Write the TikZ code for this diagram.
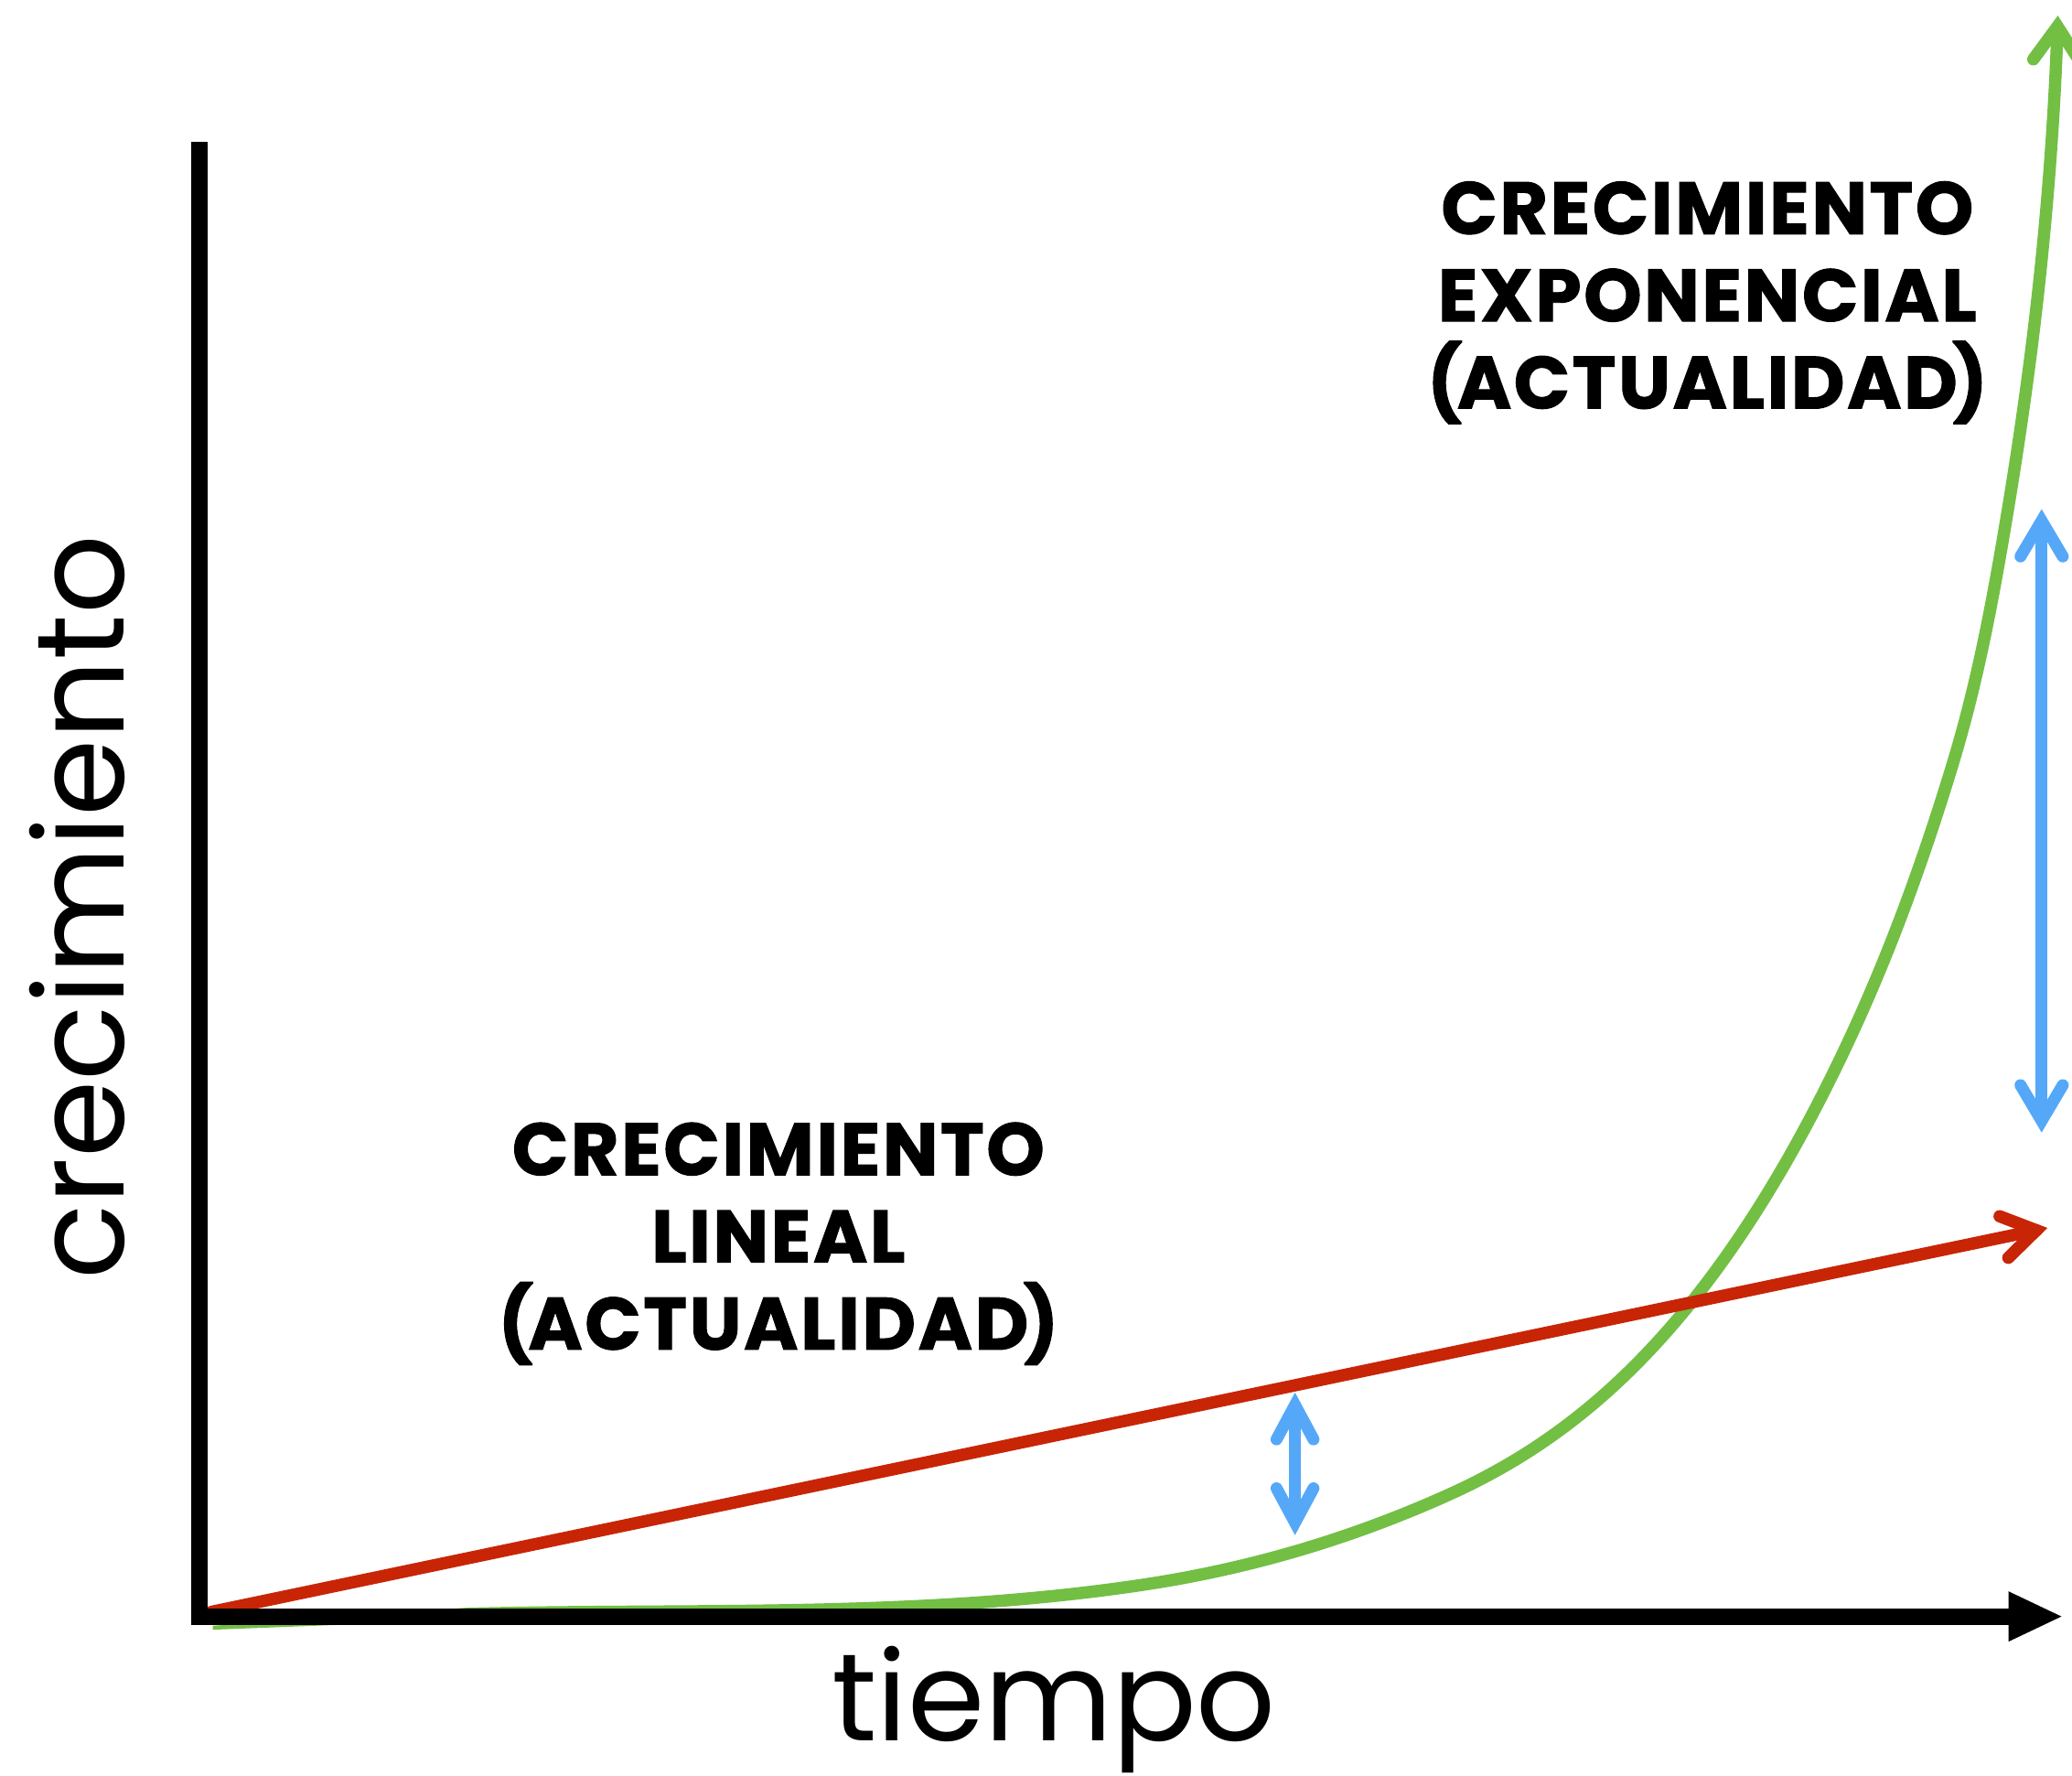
\documentclass[tikz,border=0pt]{standalone}
\usepackage{fontspec}
\setmainfont{Poppins}
\newfontfamily\lblfont{Poppins}[LetterSpace=3, FakeBold=1.2]
\definecolor{grn}{RGB}{114,191,68}
\definecolor{rdd}{RGB}{200,37,6}
\definecolor{blu}{RGB}{85,168,248}
\begin{document}
\begin{tikzpicture}[x=1pt,y=-1pt,
  axisline/.style={line width=12.3pt, black},
  barb/.style={line cap=round, line join=miter, miter limit=20},
  greenline/.style={grn, line width=9.3pt},
  redline/.style={rdd, line width=9.3pt},
  blueline/.style={blu, line width=9pt},
  biglabel/.style={font=\lblfont\bfseries\fontsize{56}{66}\selectfont, align=center, inner sep=0pt, anchor=north},
  axislabel/.style={font=\fontsize{94}{100}\selectfont, inner sep=0pt, anchor=base}]
\path[use as bounding box] (0,0) rectangle (1568,1343.7);

% coordinates
\coordinate (yend) at (151,107);
\coordinate (xend) at (1522,1223);
\coordinate (xtip) at (1560,1223);
\coordinate (rstart) at (160,1219.5);
\coordinate (rtip) at (1541,930.8);
\coordinate (gstart) at (353,1221);
\coordinate (gtip) at (1557,20);

% green exponential curve (thin start, then full width)
\fill[grn] (161,1230) -- (353,1216.4) -- (353,1225.6) -- (161,1233) -- cycle;
\draw[greenline] (gstart)
  .. controls (523.67,1216.73) and (694.33,1224.6) .. (865,1199)
  .. controls (942,1187.45) and (1019,1165.65) .. (1096,1131)
  .. controls (1157.67,1103.25) and (1219.33,1061.08) .. (1281,984)
  .. controls (1319,936.5) and (1357,875.8) .. (1395,796)
  .. controls (1422.67,737.9) and (1450.33,668.3) .. (1478,577)
  .. controls (1496.69,515.33) and (1508.10,453.67) .. (1518.4,392)
  .. controls (1528.66,330.57) and (1537.35,269.13) .. (1543.8,207.7)
  .. controls (1550.37,145.13) and (1554.94,82.57) .. (gtip);
\draw[greenline, barb] (1538.7,44.9) -- (gtip) -- (1573.7,46.1);

% red linear line
\draw[redline, line cap=round] (rstart) -- (rtip);
\draw[redline, barb] (1513.2,920.2) -- (rtip) -- (1519.8,951.6);

% axes
\draw[axisline] (151,1229) -- (yend);
\draw[axisline] (145,1223) -- (xend);
\fill[black] (1520,1204) -- (xtip) -- (1520,1242) -- cycle;

% small blue double arrow
\coordinate (sbt) at (980,1063);
\coordinate (sbb) at (980,1152);
\draw[blueline] (sbt) -- (sbb);
\draw[blueline, barb] (966,1089) -- (sbt) -- (994,1089);
\draw[blueline, barb] (966,1126) -- (sbb) -- (994,1126);

% large blue double arrow
\coordinate (lbt) at (1545,394);
\coordinate (lbb) at (1545,848);
\draw[blueline] (lbt) -- (lbb);
\draw[blueline, barb] (1529,421) -- (lbt) -- (1561,421);
\draw[blueline, barb] (1529,821) -- (lbb) -- (1561,821);

% labels
\node[biglabel] (explabel) at (1292,137) {CRECIMIENTO\\EXPONENCIAL\\(\kern-4pt ACTUALIDAD\kern-4pt)};
\node[biglabel] (linlabel) at (589,849) {CRECIMIENTO\\LINEAL\\(\kern-4pt ACTUALIDAD\kern-4pt)};
\node[axislabel] (xlabel) at (797.5,1317) {tiempo};
\node[axislabel, rotate=90] (ylabel) at (93.5,686.5) {crecimiento};
\end{tikzpicture}
\end{document}
